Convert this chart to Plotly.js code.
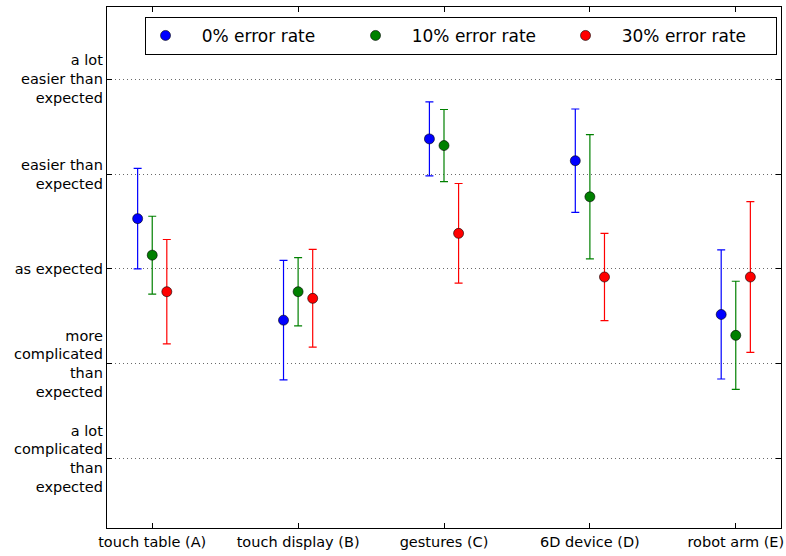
<!DOCTYPE html>
<html>
<head>
<meta charset="utf-8">
<script src="https://cdn.plot.ly/plotly-3.0.1.min.js"></script>
<style>html,body{margin:0;padding:0;background:#fff;}#chart{width:786px;height:556px;}</style>
</head>
<body>
<div id="chart"></div>
<script>
const categories = ["touch table (A)", "touch display (B)", "gestures (C)", "6D device (D)", "robot arm (E)"];
const yTickVals = [1, 2, 3, 4, 5];
const yTickText = ["a lot<br>complicated<br>than<br>expected", "more<br>complicated<br>than<br>expected", "as expected", "easier than<br>expected", "a lot<br>easier than<br>expected"];

const seriesNames = ["0% error rate", "10% error rate", "30% error rate"];
const seriesColors = ["#0000ff", "#008000", "#ff0000"];
const offsets = [-0.1, 0, 0.1];

const mean0 = [3.53, 2.46, 4.37, 4.14, 2.52];
const err0  = [0.53, 0.63, 0.39, 0.545, 0.68];
const mean10 = [3.145, 2.76, 4.30, 3.76, 2.30];
const err10  = [0.41, 0.36, 0.38, 0.655, 0.57];
const mean30 = [2.76, 2.69, 3.375, 2.915, 2.915];
const err30  = [0.55, 0.515, 0.525, 0.46, 0.795];

const means = [mean0, mean10, mean30];
const errs = [err0, err10, err30];

const traces = seriesNames.map((name, s) => ({
  type: 'scatter',
  mode: 'markers',
  name: '\u00a0\u00a0\u00a0' + name,
  x: categories.map((c, i) => i + offsets[s]),
  y: means[s],
  marker: {color: seriesColors[s], size: 10, line: {color: '#000', width: 0.6}},
  error_y: {type: 'data', array: errs[s], visible: true, color: seriesColors[s], thickness: 1.2, width: 4},
  hoverinfo: 'skip'
}));

const layout = {
  width: 786, height: 556,
  margin: {l: 107, r: 5, t: 7, b: 28},
  paper_bgcolor: '#fff', plot_bgcolor: '#fff',
  font: {family: 'DejaVu Sans', color: '#000', size: 14.5},
  showlegend: true,
  legend: {
    orientation: 'h', x: 0.5245, y: 0.981, xanchor: 'center', yanchor: 'top',
    bordercolor: '#000', borderwidth: 1, bgcolor: '#fff',
    font: {size: 17, family: 'DejaVu Sans'},
    entrywidth: 165, entrywidthmode: 'pixels'
  },
  xaxis: {
    range: [-0.31, 4.31],
    tickvals: categories.map((c, i) => i),
    ticktext: categories,
    ticks: 'inside', ticklen: 5, tickcolor: '#000', mirror: 'ticks',
    showline: true, linecolor: '#000', linewidth: 1.2,
    showgrid: false, zeroline: false,
    tickfont: {size: 14.5}
  },
  yaxis: {
    range: [0.27, 5.76],
    tickvals: yTickVals,
    ticktext: yTickText,
    ticks: 'inside', ticklen: 5, tickcolor: '#000', mirror: 'ticks',
    showline: true, linecolor: '#000', linewidth: 1.2,
    showgrid: true, gridcolor: '#444', gridwidth: 0.8, griddash: '1px,3px',
    zeroline: false,
    tickfont: {size: 14.5}
  }
};

Plotly.newPlot('chart', traces, layout, {displayModeBar: false, staticPlot: true});
</script>
</body>
</html>
